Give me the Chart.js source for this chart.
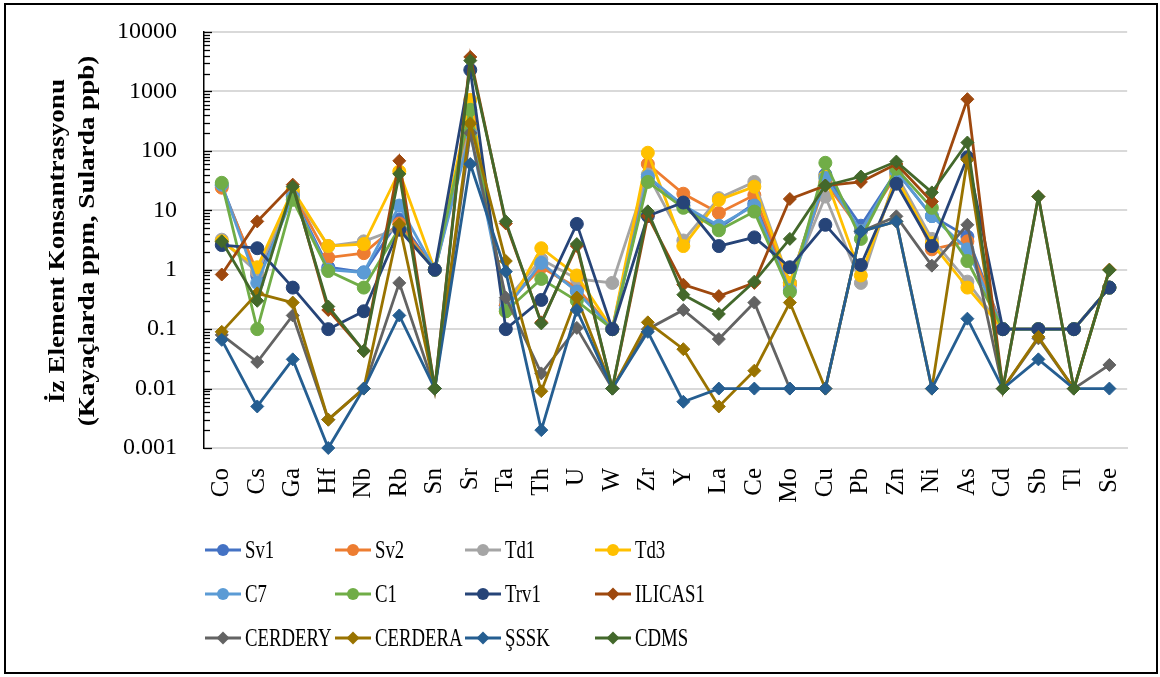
<!DOCTYPE html>
<html>
<head>
<meta charset="utf-8">
<script src="https://cdn.jsdelivr.net/npm/chart.js@4.4.1/dist/chart.umd.min.js"></script>
<style>
  html, body { margin: 0; padding: 0; background: #fff; }
  #wrap { position: relative; width: 1160px; height: 677px; }
  canvas { display: block; }
</style>
</head>
<body>
<div id="wrap"><canvas id="c" width="1160" height="677"></canvas></div>
<script>
// Element categories along the x axis
const elements = ['Co','Cs','Ga','Hf','Nb','Rb','Sn','Sr','Ta','Th','U','W','Zr','Y','La','Ce','Mo','Cu','Pb','Zn','Ni','As','Cd','Sb','Tl','Se'];

// Concentrations per sample (rocks in ppm, waters in ppb)
const sv1     = [26, 0.8, 18, 1.1, 0.9, 7, 1, 300, 0.25, 1.2, 0.45, 0.1, 35, 12, 5, 13, 0.6, 40, 5.5, 45, 8, 3.6, 0.1, 0.1, 0.1, 0.5];
const sv2     = [24, 0.9, 20, 1.6, 1.9, 6, 1, 350, 0.25, 1.1, 0.5, 0.1, 60, 19, 9, 18, 0.55, 30, 4.5, 40, 2.2, 3.0, 0.1, 0.1, 0.1, 0.5];
const td1     = [3.2, 0.9, 20, 2.5, 3.0, 5, 1, 250, 0.3, 1.5, 0.7, 0.6, 40, 3.1, 16, 30, 0.6, 17, 0.6, 40, 3.3, 0.63, 0.1, 0.1, 0.1, 0.5];
const td3     = [3, 1.1, 22, 2.5, 2.7, 45, 1, 720, 0.2, 2.3, 0.8, 0.1, 93, 2.5, 15, 25, 0.6, 37, 0.8, 35, 2.8, 0.5, 0.1, 0.1, 0.1, 0.5];
const c7      = [27, 0.6, 17, 1.0, 0.9, 12, 1, 200, 0.22, 1.3, 0.43, 0.1, 37, 12, 5.5, 12, 0.45, 35, 4.5, 45, 8, 2.2, 0.1, 0.1, 0.1, 0.5];
const c1      = [29, 0.1, 15, 0.95, 0.5, 5, 1, 490, 0.2, 0.7, 0.3, 0.1, 30, 11, 4.6, 9.5, 0.42, 63, 3.3, 50, 11, 1.4, 0.1, 0.1, 0.1, 0.5];
const trv1    = [2.6, 2.3, 0.5, 0.1, 0.2, 4.7, 1, 2300, 0.1, 0.31, 5.9, 0.1, 8, 13.5, 2.5, 3.5, 1.1, 5.7, 1.2, 28, 2.5, 78, 0.1, 0.1, 0.1, 0.5];
const ilicas1 = [0.83, 6.5, 27, 0.21, 0.043, 68, 0.01, 3800, 6, 0.13, 2.5, 0.01, 8, 0.56, 0.36, 0.6, 15.5, 26, 30, 60, 14, 740, 0.01, 17, 0.01, 1.0];
const cerdery = [0.08, 0.028, 0.17, 0.003, 0.01, 0.6, 0.01, 200, 0.34, 0.018, 0.105, 0.01, 0.1, 0.21, 0.068, 0.28, 0.01, 0.01, 4.4, 7.9, 1.17, 5.7, 0.01, 0.07, 0.01, 0.025];
const cerdera = [0.09, 0.4, 0.28, 0.003, 0.01, 5.8, 0.01, 290, 1.4, 0.009, 0.34, 0.01, 0.13, 0.046, 0.005, 0.02, 0.28, 0.01, 4.4, 6.5, 0.01, 71, 0.01, 0.074, 0.01, 1.0];
const sssk    = [0.066, 0.005, 0.031, 0.001, 0.01, 0.17, 0.01, 60, 0.93, 0.002, 0.21, 0.01, 0.09, 0.006, 0.01, 0.01, 0.01, 0.01, 4.4, 6.5, 0.01, 0.15, 0.01, 0.031, 0.01, 0.01];
const cdms    = [3.0, 0.3, 25, 0.24, 0.043, 41, 0.01, 3300, 6.5, 0.125, 2.7, 0.01, 9.6, 0.38, 0.18, 0.63, 3.3, 26, 37, 66, 20, 138, 0.01, 17, 0.01, 0.98];

// Log axis: labelled decades
const yTickValues = [0.001, 0.01, 0.1, 1, 10, 100, 1000, 10000];
const yTickLabels = ['0.001', '0.01', '0.1', '1', '10', '100', '1000', '10000'];
const yTitleLines = ['İz Element Konsantrasyonu', '(Kayaçlarda ppm, Sularda ppb)'];

const seriesNames = ['Sv1','Sv2','Td1','Td3','C7','C1','Trv1','ILICAS1','CERDERY','CERDERA','ŞSSK','CDMS'];
const seriesData  = [sv1, sv2, td1, td3, c7, c1, trv1, ilicas1, cerdery, cerdera, sssk, cdms];
const seriesColors = ['#4472C4','#ED7D31','#A5A5A5','#FFC000','#5B9BD5','#70AD47','#264478','#9E480E','#636363','#997300','#255E91','#43682B'];
const seriesMarkers = ['circle','circle','circle','circle','circle','circle','circle','rectRot','rectRot','rectRot','rectRot','rectRot'];

const FONT = '"Liberation Serif", "Times New Roman", serif';
const N = seriesNames.length;

const datasets = seriesNames.map((name, i) => ({
  label: name,
  data: seriesData[i],
  borderColor: seriesColors[i],
  backgroundColor: seriesColors[i],
  pointBackgroundColor: seriesColors[i],
  pointBorderColor: seriesColors[i],
  pointStyle: seriesMarkers[i],
  pointRadius: 6.5,
  pointBorderWidth: 1,
  borderWidth: 2.8,
  tension: 0,
  clip: false,
  order: N - i
}));

// Frame, axis title, inside minor ticks on the log axis, and the series key
const decorPlugin = {
  id: 'decor',
  afterDraw(chart) {
    const ctx = chart.ctx;
    const y = chart.scales.y;
    const area = chart.chartArea;
    ctx.save();
    // minor/major tick marks drawn inward from the axis line
    ctx.strokeStyle = '#000';
    ctx.lineWidth = 1.3;
    for (let k = -3; k <= 4; k++) {
      const base = Math.pow(10, k);
      const py = Math.round(y.getPixelForValue(base)) + 0.5;
      ctx.beginPath(); ctx.moveTo(area.left, py); ctx.lineTo(area.left + 8, py); ctx.stroke();
      if (k === 4) break;
      for (let m = 2; m <= 9; m++) {
        const p = Math.round(y.getPixelForValue(m * base)) + 0.5;
        ctx.beginPath(); ctx.moveTo(area.left, p); ctx.lineTo(area.left + 6, p); ctx.stroke();
      }
    }

    // vertical axis title, two lines reading bottom to top
    const midY = (area.top + area.bottom) / 2 + 1;
    [58, 88].forEach((cx, i) => {
      ctx.save();
      ctx.translate(cx, midY);
      ctx.rotate(-Math.PI / 2);
      ctx.scale(1.13, 1);
      ctx.fillStyle = '#000';
      ctx.font = 'bold 24px ' + FONT;
      ctx.textAlign = 'center';
      ctx.textBaseline = 'middle';
      ctx.fillText(yTitleLines[i], 0, 0);
      ctx.restore();
    });

    // outer frame
    ctx.lineWidth = 2;
    ctx.strokeStyle = '#000';
    ctx.strokeRect(5, 4, 1152, 669);

    // series key in a 4-column grid
    const colX = [205, 335, 465, 595];
    const rowY = [550, 594, 638];
    chart.data.datasets.forEach((ds, i) => {
      const x0 = colX[i % 4];
      const yy = rowY[Math.floor(i / 4)];
      ctx.strokeStyle = ds.borderColor;
      ctx.lineWidth = 2.8;
      ctx.beginPath(); ctx.moveTo(x0, yy); ctx.lineTo(x0 + 36, yy); ctx.stroke();
      ctx.fillStyle = ds.borderColor;
      ctx.beginPath();
      if (ds.pointStyle === 'circle') {
        ctx.arc(x0 + 18, yy, 6, 0, Math.PI * 2);
      } else {
        ctx.moveTo(x0 + 18, yy - 6.5); ctx.lineTo(x0 + 24.5, yy); ctx.lineTo(x0 + 18, yy + 6.5); ctx.lineTo(x0 + 11.5, yy);
        ctx.closePath();
      }
      ctx.fill();
      // narrow serif lettering for the key
      ctx.save();
      ctx.translate(x0 + 40, yy + 1);
      ctx.scale(0.75, 1);
      ctx.fillStyle = '#000';
      ctx.font = '25px ' + FONT;
      ctx.textBaseline = 'middle';
      ctx.textAlign = 'left';
      ctx.fillText(ds.label, 0, 0);
      ctx.restore();
    });
    ctx.restore();
  }
};

new Chart(document.getElementById('c'), {
  type: 'line',
  data: { labels: elements, datasets: datasets },
  options: {
    responsive: false,
    animation: false,
    events: [],
    layout: { padding: { left: 0, right: 31, top: 32, bottom: 0 } },
    plugins: { legend: { display: false }, tooltip: { enabled: false } },
    scales: {
      x: {
        type: 'category',
        offset: true,
        grid: { display: false, drawTicks: false },
        border: { display: true, color: '#D9D9D9', width: 2 },
        ticks: {
          autoSkip: false, maxRotation: 90, minRotation: 90, padding: 20,
          color: '#000', font: { family: FONT, size: 25 }
        },
        afterFit(s) { s.height = 229; }
      },
      y: {
        type: 'logarithmic',
        min: 0.001, max: 10000,
        afterBuildTicks(s) { s.ticks = yTickValues.map(v => ({ value: v })); },
        grid: { color: '#D9D9D9', lineWidth: 2, drawTicks: false },
        border: { display: true, color: '#000', width: 1.5 },
        ticks: {
          padding: 27, color: '#000', font: { family: FONT, size: 24 },
          callback: (v) => { const i = yTickValues.indexOf(v); return i >= 0 ? yTickLabels[i] : ''; }
        },
        title: { display: false },
        afterFit(s) { s.width = 204; s.paddingTop = 0; s.paddingBottom = 0; }
      }
    }
  },
  plugins: [decorPlugin]
});
</script>
</body>
</html>
